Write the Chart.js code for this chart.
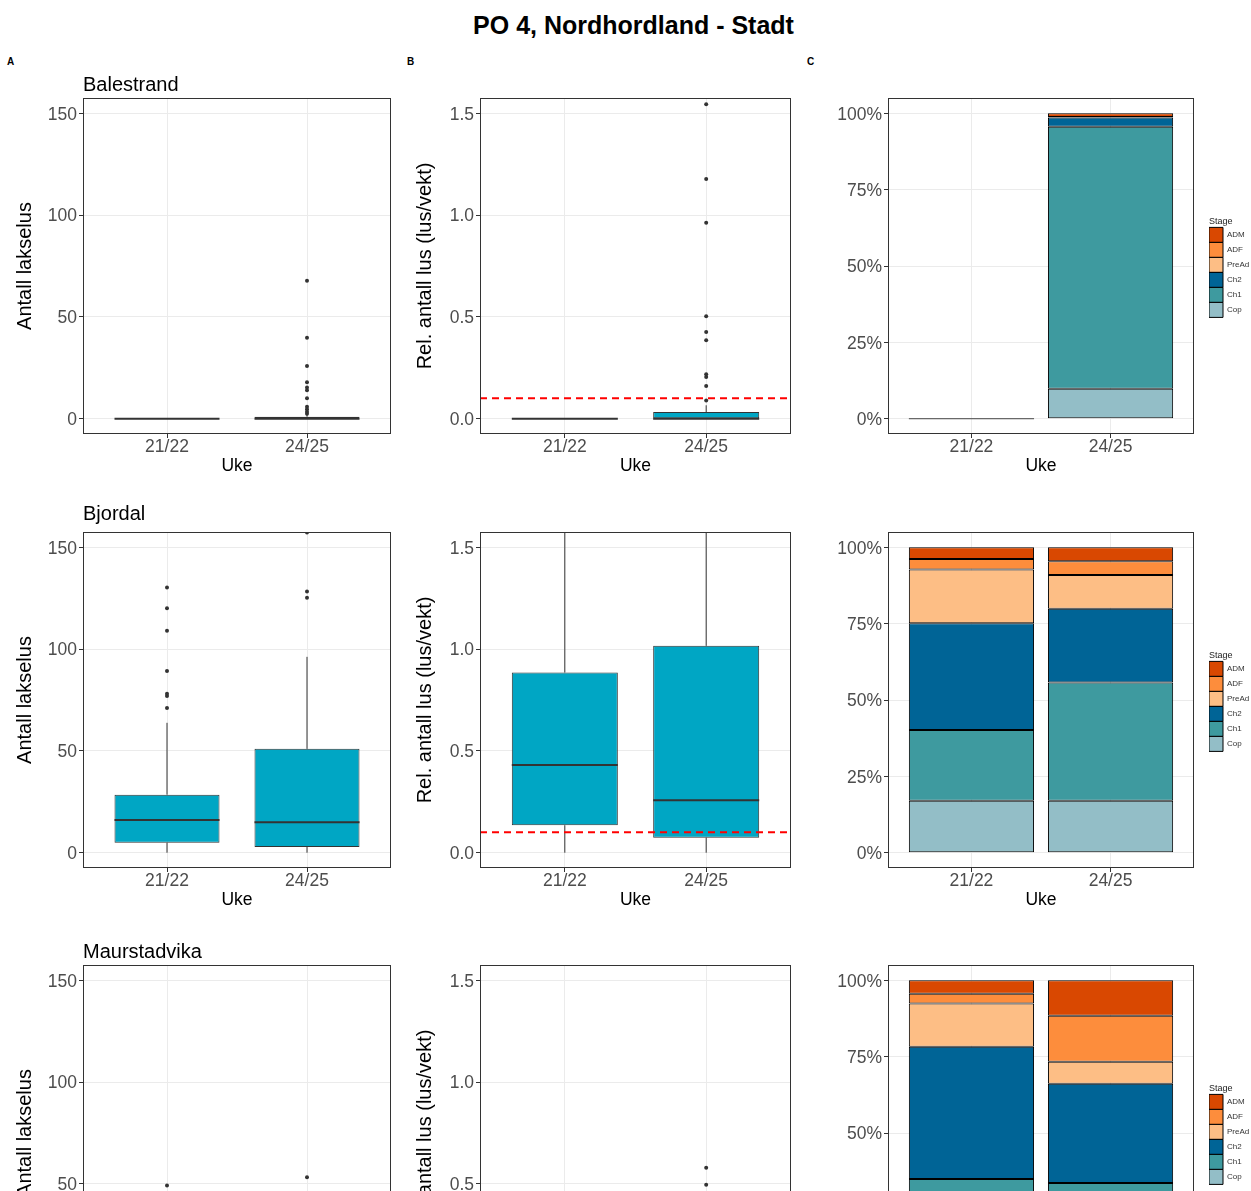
<!DOCTYPE html>
<html lang="no">
  <head>
    <meta charset="UTF-8" />
    <title>PO 4, Nordhordland - Stadt</title>
    <script src="https://cdn.jsdelivr.net/npm/chart.js"></script>
    <style>
      body {
        margin: 0;
        width: 1251px;
        height: 1191px;
        overflow: hidden;
        position: relative;
        background: #fff;
        font-family: 'Liberation Sans', Arial, sans-serif;
      }
      h1 {
        position: absolute;
        left: 8px;
        top: 13px;
        width: 1251px;
        margin: 0;
        text-align: center;
        font-size: 25px;
        line-height: 25px;
        font-weight: bold;
        color: #000;
      }
      .tag {
        position: absolute;
        top: 57px;
        font-size: 10px;
        line-height: 10px;
        font-weight: bold;
      }
      canvas {
        position: absolute;
      }
    </style>
  </head>
  <body>
    <h1>PO 4, Nordhordland - Stadt</h1>
    <div class="tag" style="left: 7px">A</div>
    <div class="tag" style="left: 407px">B</div>
    <div class="tag" style="left: 807px">C</div>

    <canvas id="count0" width="400" height="433" style="left: 0; top: 58px"></canvas>
    <canvas id="rel0" width="400" height="433" style="left: 400px; top: 58px"></canvas>
    <canvas id="share0" width="451" height="433" style="left: 800px; top: 58px"></canvas>

    <canvas id="count1" width="400" height="433" style="left: 0; top: 492px"></canvas>
    <canvas id="rel1" width="400" height="433" style="left: 400px; top: 492px"></canvas>
    <canvas id="share1" width="451" height="433" style="left: 800px; top: 492px"></canvas>

    <canvas id="count2" width="400" height="433" style="left: 0; top: 925px"></canvas>
    <canvas id="rel2" width="400" height="433" style="left: 400px; top: 925px"></canvas>
    <canvas id="share2" width="451" height="433" style="left: 800px; top: 925px"></canvas>
  </body>
  <script>
    const categories = ['21/22', '24/25']
    const sites = ['Balestrand', 'Bjordal', 'Maurstadvika']
    const stages = ['Cop', 'Ch1', 'Ch2', 'PreAd', 'ADF', 'ADM']

    // boksplott: [nedre whisker, Q1, median, Q3, øvre whisker] for 21/22 og 24/25
    const countBalestrand = [[0, 0, 0, 0, 0], [0, 0, 0, 1, 2]]
    const countBjordal = [[0, 4.9, 16.1, 28.5, 63.8], [0, 2.8, 15.0, 51.0, 96.2]]
    const countMaurstadvika = [[0, 4, 12, 24, 44], [0, 3, 10, 22, 46]]
    const countOutBalestrand = [[], [67.7, 39.8, 25.9, 17.9, 15.3, 14.0, 10.0, 5.9, 4.6, 3.4, 2.5]]
    const countOutBjordal = [[130.3, 120.1, 109.0, 89.3, 78.1, 77.0, 71.1], [157.2, 128.3, 125.2]]
    const countOutMaurstadvika = [[49.2], [53.3]]

    const relBalestrand = [[0, 0, 0, 0, 0], [0, 0, 0, 0.033, 0.066]]
    const relBjordal = [[0, 0.135, 0.431, 0.885, 1.9], [0, 0.074, 0.258, 1.016, 2.4]]
    const relMaurstadvika = [[0, 0.05, 0.14, 0.26, 0.44], [0, 0.04, 0.12, 0.22, 0.45]]
    const relOutBalestrand = [[], [1.544, 1.177, 0.962, 0.503, 0.426, 0.385, 0.218, 0.205, 0.161, 0.09]]
    const relOutBjordal = [[], []]
    const relOutMaurstadvika = [[], [0.579, 0.496]]
    const relLimit = 0.1

    // andel (%) per stadium, i samme rekkefølge som stages
    const shareBalestrand2122 = [0, 0, 0, 0, 0, 0]
    const shareBalestrand2425 = [9.8, 85.8, 3.0, 0, 0.2, 1.2]
    const shareBjordal2122 = [17.0, 23.2, 34.9, 17.6, 3.5, 3.8]
    const shareBjordal2425 = [17.0, 38.7, 24.2, 11.0, 4.5, 4.6]
    const shareMaurstadvika2122 = [15.0, 19.9, 43.3, 14.2, 3.2, 4.4]
    const shareMaurstadvika2425 = [12.0, 21.6, 32.5, 7.2, 15.1, 11.6]

    const countTicks = [0, 50, 100, 150]
    const countTickLabels = ['0', '50', '100', '150']
    const relTicks = [0, 0.5, 1, 1.5]
    const relTickLabels = ['0.0', '0.5', '1.0', '1.5']
    const shareTicks = [0, 25, 50, 75, 100]
    const shareTickLabels = ['0%', '25%', '50%', '75%', '100%']

    const countStats = [countBalestrand, countBjordal, countMaurstadvika]
    const countOut = [countOutBalestrand, countOutBjordal, countOutMaurstadvika]
    const relStats = [relBalestrand, relBjordal, relMaurstadvika]
    const relOut = [relOutBalestrand, relOutBjordal, relOutMaurstadvika]
    const shares = [
      [shareBalestrand2122, shareBalestrand2425],
      [shareBjordal2122, shareBjordal2425],
      [shareMaurstadvika2122, shareMaurstadvika2425],
    ]

    // stil
    const boxFill = '#00A6C4'
    const stageColors = ['#93BEC7', '#3E9A9F', '#006496', '#FDBE85', '#FD8D3C', '#D94801']
    const xMin = 0.4
    const xMax = 2.6
    // tittel-padding (Bjordal har nedhengende j, ggplot flytter den opp)
    const titlePad = [
      { top: 15, bottom: 1 },
      { top: 10, bottom: 6 },
      { top: 15, bottom: 1 },
    ]

    Chart.defaults.font.family = '"Liberation Sans", Arial, sans-serif'
    Chart.defaults.animation = false

    const panelBorder = {
      id: 'panelBorder',
      afterDatasetsDraw(chart) {
        const a = chart.chartArea
        const ctx = chart.ctx
        ctx.save()
        ctx.strokeStyle = '#333'
        ctx.lineWidth = 1
        ctx.strokeRect(a.left + 0.5, a.top + 0.5, a.right - a.left - 1, a.bottom - a.top - 1)
        ctx.restore()
      },
    }

    // flytt legenden litt bort fra panelet
    const legendShift = {
      id: 'legendShift',
      afterLayout(chart) {
        const l = chart.legend
        if (!l) return
        const w = l.width
        l.left = chart.chartArea.right + 15
        l.right = l.left + w
      },
    }

    function gridOpts() {
      return { color: '#EBEBEB', lineWidth: 1, tickColor: '#333', tickLength: 4, tickWidth: 1, offset: false }
    }

    function xAxis() {
      return {
        type: 'linear',
        min: xMin,
        max: xMax,
        offset: false,
        afterBuildTicks: (s) => {
          s.ticks = categories.map((c, i) => ({ value: i + 1 }))
        },
        afterFit: (s) => {
          s.height = 57
        },
        ticks: {
          callback: (v, i) => categories[i],
          color: '#4D4D4D',
          font: { size: 17.5, lineHeight: 1 },
          padding: 0,
          autoSkip: false,
          maxRotation: 0,
        },
        grid: gridOpts(),
        border: { display: false },
        title: {
          display: true,
          text: 'Uke',
          color: '#000',
          font: { size: 17.5, lineHeight: 1.2 },
          padding: { top: 0, bottom: 14 },
        },
      }
    }

    function yAxis(min, max, ticks, labels, width, title) {
      return {
        type: 'linear',
        min: min,
        max: max,
        afterBuildTicks: (s) => {
          s.ticks = ticks.map((v) => ({ value: v }))
        },
        afterFit: (s) => {
          s.width = width
        },
        ticks: {
          callback: (v, i) => labels[i],
          color: '#4D4D4D',
          font: { size: 17.5 },
          padding: 2,
          labelOffset: 1.5,
          autoSkip: false,
        },
        grid: gridOpts(),
        border: { display: false },
        title: title
          ? {
              display: true,
              text: title,
              color: '#000',
              font: { size: 20, lineHeight: 1.2 },
              padding: { top: 13, bottom: 0 },
            }
          : { display: false },
      }
    }

    function boxDatasets(stats, outliers) {
      const half = 0.375 // halv boksbredde
      const whiskers = []
      const medians = []
      const points = []
      stats.forEach((s, i) => {
        const x = i + 1
        whiskers.push({ x, y: s[0] }, { x, y: s[1] }, { x, y: null })
        whiskers.push({ x, y: s[3] }, { x, y: s[4] }, { x, y: null })
        medians.push({ x: x - half, y: s[2] }, { x: x + half, y: s[2] }, { x, y: null })
        outliers[i].forEach((v) => points.push({ x, y: v }))
      })
      return [
        {
          type: 'line',
          data: whiskers,
          borderColor: '#333',
          borderWidth: 1,
          pointRadius: 0,
          spanGaps: false,
          order: 4,
        },
        {
          type: 'bar',
          data: stats.map((s, i) => ({ x: i + 1, y: [s[1], s[3]] })),
          backgroundColor: boxFill,
          borderColor: '#333',
          borderWidth: 1,
          borderSkipped: false,
          barPercentage: 0.75,
          categoryPercentage: 1,
          order: 3,
        },
        {
          type: 'line',
          data: medians,
          borderColor: '#333',
          borderWidth: 2,
          pointRadius: 0,
          spanGaps: false,
          order: 2,
        },
        {
          type: 'scatter',
          data: points,
          pointRadius: 2,
          backgroundColor: '#333',
          borderWidth: 0,
          order: 1,
        },
      ]
    }

    function shareDatasets(rows) {
      const sets = stages.map((st, k) => ({
        type: 'bar',
        label: st,
        stack: 'stage',
        data: rows.map((r, i) => ({ x: i + 1, y: r[k] })),
        backgroundColor: stageColors[k],
        borderColor: '#000',
        borderWidth: 1,
        borderSkipped: false,
        barPercentage: 0.9,
        categoryPercentage: 1,
      }))
      // søyle uten lus: bare en flat strek ved 0 %
      const flat = []
      rows.forEach((r, i) => {
        if (r.reduce((a, b) => a + b, 0) === 0) {
          flat.push({ x: i + 1 - 0.45, y: 0 }, { x: i + 1 + 0.45, y: 0 }, { x: i + 1, y: null })
        }
      })
      sets.push({
        type: 'line',
        label: '',
        data: flat,
        borderColor: '#444',
        borderWidth: 1,
        pointRadius: 0,
        spanGaps: false,
      })
      return sets
    }

    sites.forEach((site, r) => {
      // A: antall lakselus
      new Chart(document.getElementById('count' + r), {
        type: 'bar',
        data: { datasets: boxDatasets(countStats[r], countOut[r]) },
        options: {
          responsive: false,
          events: [],
          layout: { padding: { top: 0, right: 9, bottom: 0, left: 0 } },
          scales: {
            x: xAxis(),
            y: yAxis(-7.5, 157.5, countTicks, countTickLabels, 83, 'Antall lakselus'),
          },
          plugins: {
            legend: { display: false },
            tooltip: { enabled: false },
            title: {
              display: true,
              text: site,
              align: 'start',
              fullSize: false,
              color: '#000',
              font: { size: 20, weight: 'normal', lineHeight: 1.2 },
              padding: titlePad[r],
            },
          },
        },
        plugins: [panelBorder],
      })

      // B: relativt antall lus
      const relSets = boxDatasets(relStats[r], relOut[r])
      relSets.push({
        type: 'line',
        data: [
          { x: xMin, y: relLimit },
          { x: xMax, y: relLimit },
        ],
        borderColor: '#FF0000',
        borderWidth: 2,
        borderDash: [7, 5],
        pointRadius: 0,
        order: 0,
      })
      new Chart(document.getElementById('rel' + r), {
        type: 'bar',
        data: { datasets: relSets },
        options: {
          responsive: false,
          events: [],
          layout: { padding: { top: 40, right: 9, bottom: 0, left: 0 } },
          scales: {
            x: xAxis(),
            y: yAxis(-0.075, 1.575, relTicks, relTickLabels, 80, 'Rel. antall lus (lus/vekt)'),
          },
          plugins: {
            legend: { display: false },
            tooltip: { enabled: false },
          },
        },
        plugins: [panelBorder],
      })

      // C: fordeling per stadium
      new Chart(document.getElementById('share' + r), {
        type: 'bar',
        data: { datasets: shareDatasets(shares[r]) },
        options: {
          responsive: false,
          events: [],
          layout: { padding: { top: 40, right: 17, bottom: 0, left: 0 } },
          scales: {
            x: xAxis(),
            y: yAxis(-5, 105, shareTicks, shareTickLabels, 88, null),
          },
          plugins: {
            tooltip: { enabled: false },
            legend: {
              position: 'right',
              align: 'center',
              fullSize: false,
              maxWidth: 40,
              reverse: true,
              title: {
                display: true,
                text: 'Stage',
                color: '#222',
                position: 'start',
                font: { size: 9 },
                padding: { top: 2, bottom: 0 },
              },
              labels: {
                boxWidth: 14,
                boxHeight: 15,
                padding: 0,
                color: '#333',
                font: { size: 8 },
                filter: (item) => stages.includes(item.text),
              },
            },
          },
        },
        plugins: [panelBorder, legendShift],
      })
    })
  </script>
</html>
